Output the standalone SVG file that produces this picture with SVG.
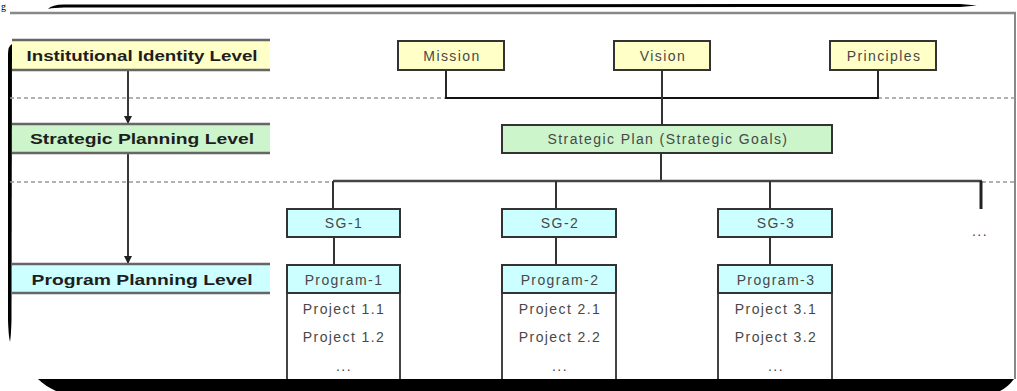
<svg xmlns="http://www.w3.org/2000/svg" width="1017" height="391" viewBox="0 0 1017 391">
<defs>
<style>
.lbl{font-family:"Liberation Sans",Arial,sans-serif;font-weight:bold;font-size:14px;fill:#1e1e1e;text-anchor:middle}
.nt{font-family:"Liberation Sans",Arial,sans-serif;font-size:14px;fill:#484848;text-anchor:middle;letter-spacing:1.4px}
.box{stroke:#333;stroke-width:2}
.yel{fill:#FFFFC8}
.grn{fill:#CCF5CC}
.cyn{fill:#CCFFFF}
.wht{fill:#FFFFFF}
.band{stroke:#666;stroke-width:2.5}
.conn{stroke:#333;stroke-width:2;fill:none}
.dash{stroke:#999;stroke-width:1.5;stroke-dasharray:4 3;fill:none}
.frame{fill:#000}
</style>
<marker id="arr" markerWidth="8" markerHeight="8" refX="7" refY="4" orient="auto" markerUnits="userSpaceOnUse">
<path d="M0,0 L8,4 L0,8 Z" fill="#222"/>
</marker>
</defs>
<rect x="0" y="0" width="1017" height="391" fill="#fff"/>

<!-- frame artifacts -->
<g id="frame">
<text x="1" y="10" font-family="Liberation Serif,serif" font-size="10" fill="#000">g</text>
<path d="M48,9 Q52,4.5 64,4.5 L960,4 L977,5.5 L960,7 L64,7.5 Q54,7.5 48,9 Z" class="frame"/>
<line x1="10" y1="13" x2="1016" y2="13" stroke="#888" stroke-width="2.5"/>
<line x1="1015" y1="13" x2="1015" y2="379" stroke="#888" stroke-width="2"/>
<path d="M8,54 Q8,46 12,44 L11.5,320 Q11,336 10,342 Q8.5,336 8,320 Z" class="frame"/>
</g>

<!-- dashed level separators -->
<g id="separators">
<line x1="10" y1="98" x2="446" y2="98" class="dash"/>
<line x1="878" y1="98" x2="1015" y2="98" class="dash"/>
<line x1="10" y1="182" x2="334" y2="182" class="dash"/>
<line x1="982" y1="182" x2="1015" y2="182" class="dash"/>
</g>

<!-- connectors -->
<g id="connectors">
<line x1="128" y1="71" x2="128" y2="123" stroke="#222" stroke-width="1.8" marker-end="url(#arr)"/>
<line x1="128" y1="154" x2="128" y2="263" stroke="#222" stroke-width="1.8" marker-end="url(#arr)"/>
<polyline points="446,70 446,98 878,98 878,70" fill="none" stroke="#111" stroke-width="1.8"/>
<line x1="662" y1="70" x2="662" y2="125" class="conn"/>
<line x1="661" y1="153" x2="661" y2="181" class="conn"/>
<line x1="333" y1="181" x2="982" y2="181" stroke="#444" stroke-width="2.5"/>
<line x1="333" y1="181" x2="333" y2="209" class="conn"/>
<line x1="556" y1="181" x2="556" y2="209" class="conn"/>
<line x1="770" y1="181" x2="770" y2="209" class="conn"/>
<line x1="981" y1="181" x2="981" y2="209" stroke="#222" stroke-width="3"/>
<line x1="334" y1="237" x2="334" y2="265" class="conn"/>
<line x1="556" y1="237" x2="556" y2="265" class="conn"/>
<line x1="770" y1="237" x2="770" y2="265" class="conn"/>
</g>

<!-- level labels -->
<g id="level-institutional">
<rect x="12" y="40" width="258" height="30" class="yel"/>
<line x1="12" y1="40" x2="270" y2="40" class="band"/>
<line x1="12" y1="70" x2="270" y2="70" class="band"/>
<text x="142" y="61" class="lbl" textLength="231" lengthAdjust="spacingAndGlyphs">Institutional Identity Level</text>
</g>
<g id="level-strategic">
<rect x="12" y="124" width="258" height="29" class="grn"/>
<line x1="12" y1="124" x2="270" y2="124" class="band"/>
<line x1="12" y1="153" x2="270" y2="153" class="band"/>
<text x="142" y="144" class="lbl" textLength="224" lengthAdjust="spacingAndGlyphs">Strategic Planning Level</text>
</g>
<g id="level-program">
<rect x="12" y="264" width="258" height="29" class="cyn"/>
<line x1="12" y1="264" x2="270" y2="264" class="band"/>
<line x1="12" y1="293" x2="270" y2="293" class="band"/>
<text x="142" y="285" class="lbl" textLength="221" lengthAdjust="spacingAndGlyphs">Program Planning Level</text>
</g>

<!-- top nodes -->
<g id="mission">
<rect x="398" y="41" width="106" height="29" class="box yel"/>
<text x="452" y="61" class="nt">Mission</text>
</g>
<g id="vision">
<rect x="614" y="41" width="96" height="29" class="box yel"/>
<text x="663" y="61" class="nt">Vision</text>
</g>
<g id="principles">
<rect x="830" y="41" width="106" height="29" class="box yel"/>
<text x="884" y="61" class="nt">Principles</text>
</g>
<g id="strategic-plan">
<rect x="502" y="125" width="330" height="28" class="box grn"/>
<text x="668" y="144" class="nt">Strategic Plan (Strategic Goals)</text>
</g>

<!-- strategic goals -->
<g id="sg1">
<rect x="287" y="209" width="113" height="28" class="box cyn"/>
<text x="344" y="228" class="nt">SG-1</text>
</g>
<g id="sg2">
<rect x="502" y="209" width="114" height="28" class="box cyn"/>
<text x="560" y="228" class="nt">SG-2</text>
</g>
<g id="sg3">
<rect x="718" y="209" width="114" height="28" class="box cyn"/>
<text x="776" y="228" class="nt">SG-3</text>
</g>
<g id="sg-more">
<text x="980" y="236" class="nt" fill="#666">...</text>
</g>

<!-- programs -->
<g id="program1">
<rect x="287" y="265" width="113" height="120" class="wht" stroke="#444" stroke-width="2"/>
<rect x="287" y="265" width="113" height="28" class="box cyn"/>
<text x="344" y="285" class="nt">Program-1</text>
<text x="344" y="314" class="nt">Project 1.1</text>
<text x="344" y="342" class="nt">Project 1.2</text>
<text x="344" y="371" class="nt" font-size="9" fill="#999">...</text>
</g>
<g id="program2">
<rect x="502" y="265" width="114" height="120" class="wht" stroke="#444" stroke-width="2"/>
<rect x="502" y="265" width="114" height="28" class="box cyn"/>
<text x="560" y="285" class="nt">Program-2</text>
<text x="560" y="314" class="nt">Project 2.1</text>
<text x="560" y="342" class="nt">Project 2.2</text>
<text x="560" y="371" class="nt" font-size="9" fill="#999">...</text>
</g>
<g id="program3">
<rect x="718" y="265" width="114" height="120" class="wht" stroke="#444" stroke-width="2"/>
<rect x="718" y="265" width="114" height="28" class="box cyn"/>
<text x="776" y="285" class="nt">Program-3</text>
<text x="776" y="314" class="nt">Project 3.1</text>
<text x="776" y="342" class="nt">Project 3.2</text>
<text x="776" y="371" class="nt" font-size="9" fill="#999">...</text>
</g>

<!-- bottom band of the frame, drawn over the boxes -->
<g id="frame-bottom">
<path d="M38,379 L1014,379 Q1008,387 1000,391 L56,391 Q45,386 38,379 Z" class="frame"/>
</g>
</svg>
